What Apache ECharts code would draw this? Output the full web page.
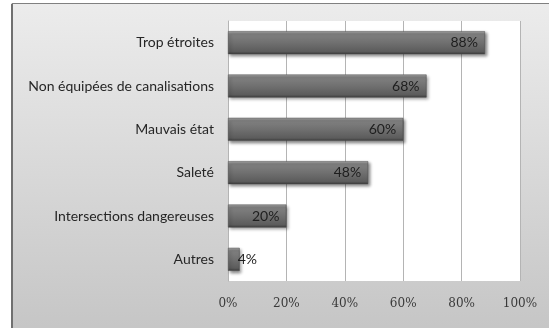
<!DOCTYPE html>
<html>
<head>
<meta charset="utf-8">
<script src="https://cdn.jsdelivr.net/npm/echarts@6/dist/echarts.min.js"></script>
<style>
  html, body { margin: 0; padding: 0; background: #fff; }
  #chart { width: 549px; height: 328px; }
</style>
</head>
<body>
<div id="chart"></div>
<script>
// Reasons cited for street problems (percent of respondents)
const categories = [
  'Trop étroites',
  'Non équipées de canalisations',
  'Mauvais état',
  'Saleté',
  'Intersections dangereuses',
  'Autres'
];
const values = [88, 68, 60, 48, 20, 4];
const xTicks = [0, 20, 40, 60, 80, 100];

const chart = echarts.init(document.getElementById('chart'), null, { renderer: 'canvas' });

const barFill = new echarts.graphic.LinearGradient(0, 0, 0, 1, [
  { offset: 0, color: '#a8a8a8' },
  { offset: 0.12, color: '#818181' },
  { offset: 0.5, color: '#707070' },
  { offset: 0.88, color: '#5c5c5c' },
  { offset: 1, color: '#3c3c3c' }
]);

const labelFont = 'Lato, "Open Sans", sans-serif';

chart.setOption({
  animation: false,
  backgroundColor: '#ffffff',
  graphic: [
    {
      type: 'rect',
      z: -10,
      shape: { x: 12, y: 3.5, width: 560, height: 340 },
      style: {
        fill: new echarts.graphic.LinearGradient(0, 0, 0, 1, [
          { offset: 0, color: '#ececec' },
          { offset: 1, color: '#c4c4c4' }
        ]),
        stroke: '#808080',
        lineWidth: 1
      }
    },
    {
      type: 'rect',
      z: -9,
      shape: { x: 11, y: 4, width: 2, height: 330 },
      style: { fill: '#707070' }
    }
  ],
  grid: {
    left: 228, right: 29, top: 21, bottom: 47,
    show: true, backgroundColor: '#ffffff', borderWidth: 0
  },
  xAxis: {
    type: 'value',
    min: 0, max: 100, interval: 20,
    axisLine: { show: false },
    axisTick: { show: false },
    splitLine: { show: true, lineStyle: { color: '#b4b4b4', width: 1 } },
    axisLabel: {
      margin: 17,
      color: '#3a3a3a',
      fontFamily: '"DejaVu Serif", serif',
      fontSize: 12,
      formatter: v => xTicks.includes(v) ? v + '%' : ''
    }
  },
  yAxis: {
    type: 'category',
    data: categories,
    inverse: true,
    axisLine: { show: true, lineStyle: { color: '#b4b4b4' } },
    axisTick: { show: false },
    axisLabel: {
      margin: 14,
      color: '#262626',
      fontFamily: labelFont,
      fontSize: 14
    }
  },
  series: [{
    type: 'bar',
    data: values.map((v, i) => i === values.length - 1
      ? { value: v, label: { position: 'right', distance: -2 } }
      : v),
    barWidth: 23,
    itemStyle: {
      color: barFill,
      borderColor: '#4a4a4a',
      borderWidth: 0.5,
      shadowColor: 'rgba(0,0,0,0.45)',
      shadowBlur: 3,
      shadowOffsetX: 2,
      shadowOffsetY: 2
    },
    label: {
      show: true,
      position: 'insideRight',
      distance: 7,
      color: '#1e1e1e',
      fontFamily: labelFont,
      fontSize: 14,
      formatter: p => p.value + '%'
    }
  }]
});
</script>
</body>
</html>
